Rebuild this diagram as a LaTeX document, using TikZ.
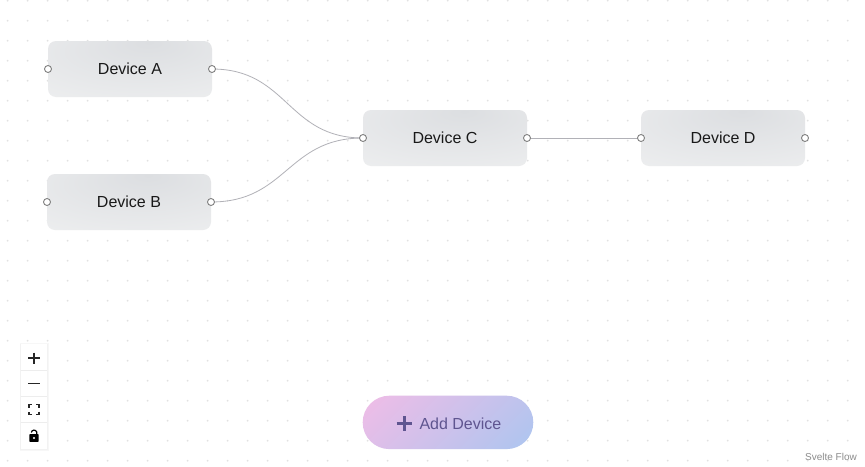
\documentclass[tikz,border=0pt]{standalone}
\usepackage{fontspec}
\setmainfont{Liberation Sans}
\usetikzlibrary{calc,backgrounds}
\definecolor{devmid}{HTML}{DCDEE1}
\definecolor{devlight}{HTML}{EEEFF0}
\definecolor{edgegrey}{HTML}{B1B1B7}
\definecolor{btnpink}{HTML}{F4BCE6}
\definecolor{btnblue}{HTML}{A8C6F0}
\definecolor{btnink}{HTML}{5F5590}
\definecolor{dotgrey}{HTML}{E2E2E2}
\pgfdeclareradialshading{devshade}{\pgfpoint{6bp}{24bp}}{%
  color(0bp)=(devmid);color(48bp)=(devlight);color(70bp)=(devlight)}
\tikzset{
  x=1pt,y=-1pt,
  device/.style={rectangle,rounded corners=8pt,minimum width=164pt,minimum height=56pt,
    inner sep=0pt,outer sep=0pt,shading=devshade,
    font=\fontsize{16}{19}\selectfont,text=black!90},
  handle/.style={circle,draw=black!50,fill=white,line width=0.9pt,minimum size=7pt,inner sep=0pt},
  edgeline/.style={draw=edgegrey,line width=0.8pt},
  ctrlbtn/.style={rectangle,fill=white,minimum width=26.6pt,minimum height=26pt,inner sep=0pt,outer sep=0pt},
  ctrlsep/.style={draw=black!7,line width=0.8pt},
  ctrlicon/.style={draw=black!85,line width=1.3pt},
}
\begin{document}
\begin{tikzpicture}
\useasboundingbox (0,0) rectangle (865,466);
% devices
\node[device] (devA) at (130,69) {Device A};
\node[device] (devB) at (129,202) {Device B};
\node[device] (devC) at (445,138) {Device C};
\node[device] (devD) at (723,138) {Device D};
% handles
\foreach \d in {A,B,C,D}{
  \node[handle] (\d-in) at (dev\d.west) {};
  \node[handle] (\d-out) at (dev\d.east) {};
}
\begin{scope}[on background layer]
  \fill[white] (0,0) rectangle (865,466);
  \foreach \i in {0,...,42}{
    \foreach \j in {0,...,23}{
      \fill[dotgrey] ({7.7+20*\i},{0.7+20*\j}) circle (1);
    }
  }
  \draw[edgeline] (A-out.center) .. controls ($(A-out.center)+(76,0)$) and ($(C-in.center)+(-76,0)$) .. (C-in.center);
  \draw[edgeline] (B-out.center) .. controls ($(B-out.center)+(76,0)$) and ($(C-in.center)+(-76,0)$) .. (C-in.center);
  \draw[edgeline] (C-out.center) -- (D-in.center);
\end{scope}
% controls panel
\fill[black!3] (19.5,342.5) rectangle (48.5,451);
\fill[black!5] (20.3,343.5) rectangle (47.7,450);
\node[ctrlbtn] (zoomin) at (34,357.3) {};
\node[ctrlbtn] (zoomout) at (34,383.7) {};
\node[ctrlbtn] (fit) at (34,409.5) {};
\node[ctrlbtn] (lock) at (34,436) {};
\draw[ctrlsep] (zoomin.south west) -- (zoomin.south east);
\draw[ctrlsep] (zoomout.south west) -- (zoomout.south east);
\draw[ctrlsep] (fit.south west) -- (fit.south east);
\draw[ctrlicon] (28,358) -- (40,358) (34,352.5) -- (34,363.7);
\draw[ctrlicon,line width=1.1pt] (28,383.5) -- (40,383.5);
\draw[ctrlicon,line width=1.5pt,line cap=butt]
  (28.8,407.5) -- (28.8,404.5) -- (32,404.5)
  (36,404.5) -- (39.2,404.5) -- (39.2,407.5)
  (39.2,411.5) -- (39.2,414.5) -- (36,414.5)
  (32,414.5) -- (28.8,414.5) -- (28.8,411.5);
\draw[draw=black,line width=1.2pt] (31.3,432.5) .. controls (31.8,429.4) and (35.8,429.4) .. (36.7,432) -- (36.7,435);
\fill[black,rounded corners=0.6pt] (29.4,434.2) rectangle (38.6,441.8);
\fill[white] (34,438) circle (1.1);
% add device button
\node[rectangle,minimum width=170.6pt,minimum height=53.4pt,rounded corners=26.7pt,inner sep=0pt,
  path picture={\begin{scope}[shift={(path picture bounding box.center)}]
    \shade[top color=btnpink,bottom color=btnblue,shading angle=45] (-88,-88) rectangle (88,88);
  \end{scope}}] (addbtn) at (448,422.4) {};
\node[text=btnink,font=\fontsize{16}{19}\selectfont,inner sep=0pt,anchor=west] (addtext) at (419.3,423.3) {Add Device};
\draw[btnink,line width=2.8pt] (396.7,423.7) -- (412.3,423.7) (404.5,416) -- (404.5,431.4);
% attribution
\node[text=black!45,font=\fontsize{10}{12}\selectfont,inner sep=0pt,anchor=east] (attr) at (857,456.5) {Svelte Flow};
\end{tikzpicture}
\end{document}
